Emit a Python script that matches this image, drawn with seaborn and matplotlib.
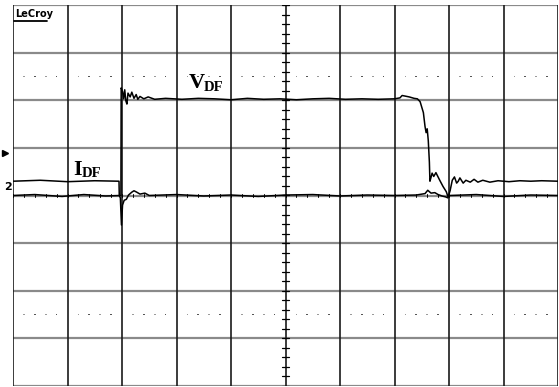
import matplotlib
matplotlib.use("Agg")
import matplotlib.pyplot as plt
import seaborn as sns
import pandas as pd
import numpy as np

sns.set_theme(style="white")
plt.rcParams['font.family'] = ['DejaVu Sans']

# ---- data (time in divisions, signal in divisions) ----
vdf_t = [0.0, 0.4, 0.9, 1.3, 1.7, 1.98, 1.985, 2.01, 2.03, 2.05, 2.07, 2.09, 2.11, 2.15, 2.18,
         2.22, 2.26, 2.29, 2.33, 2.40, 2.48, 2.60, 2.80, 3.10, 3.40, 3.70, 4.00, 4.30,
         4.60, 4.90, 5.20, 5.50, 5.80, 6.10, 6.40, 6.70, 7.00, 7.10, 7.14, 7.27, 7.36,
         7.42, 7.47, 7.53, 7.56, 7.58, 7.60, 7.62, 7.64, 7.65, 7.67, 7.69, 7.72, 7.76,
         7.83, 7.89, 7.95, 7.98, 8.02, 8.5, 9.0, 9.5, 10.0]
vdf_v = [0.0, 0.02, -0.02, 0.02, -0.01, 0.0, 2.26, 2.18, 2.03, 2.22, 1.99, 1.92, 2.15, 2.07, 2.17,
         2.04, 2.12, 2.02, 2.08, 2.03, 2.07, 2.02, 2.04, 2.02, 2.04, 2.03, 2.01, 2.04,
         2.02, 2.03, 2.01, 2.03, 2.04, 2.02, 2.03, 2.02, 2.03, 2.05, 2.10, 2.07, 2.04,
         2.03, 1.97, 1.74, 1.45, 1.32, 1.40, 1.15, 0.70, 0.30, 0.38, 0.47, 0.40, 0.48,
         0.32, 0.19, 0.08, -0.02, 0.0, 0.02, -0.02, 0.01, 0.0]

idf_t = [0.0, 0.5, 1.0, 1.5, 1.945, 1.95, 1.97, 1.99, 2.01, 2.04, 2.08, 2.12, 2.18, 2.22,
         2.27, 2.33, 2.42, 2.50, 3.0, 3.5, 4.0, 4.5, 5.0, 5.5, 6.0, 6.5, 7.0, 7.4, 7.56,
         7.61, 7.67, 7.74, 7.80, 7.87, 7.94, 7.98, 8.02, 8.06, 8.10, 8.14, 8.17, 8.20,
         8.26, 8.31, 8.39, 8.46, 8.53, 8.62, 8.75, 8.90, 9.10, 9.30, 9.50, 9.70, 10.0]
idf_v = [0.30, 0.32, 0.29, 0.31, 0.30, 0.0, -0.05, -0.62, -0.20, -0.10, -0.08, 0.01, 0.07, 0.10,
         0.07, 0.03, 0.05, 0.0, 0.02, -0.01, 0.01, -0.02, 0.01, 0.02, -0.01, 0.01, 0.0, 0.01, 0.04,
         0.11, 0.05, 0.06, 0.02, -0.01, -0.03, -0.05, 0.10, 0.32, 0.39, 0.26, 0.30, 0.37,
         0.26, 0.32, 0.28, 0.34, 0.28, 0.32, 0.28, 0.31, 0.29, 0.31, 0.30, 0.31, 0.30]

n_xdiv = 10
n_ydiv = 8

df = pd.concat([
    pd.DataFrame({"t": vdf_t, "v": vdf_v, "trace": "VDF"}),
    pd.DataFrame({"t": idf_t, "v": idf_v, "trace": "IDF"}),
], ignore_index=True)

W, H = 559, 387
fig = plt.figure(figsize=(W / 100, H / 100), dpi=100)
ax = fig.add_axes([13 / W, 1 / H, 545 / W, 381 / H])
ax.set_xlim(0, n_xdiv)
ax.set_ylim(-n_ydiv / 2, n_ydiv / 2)
for s in ax.spines.values():
    s.set_visible(False)
ax.set_xticks([])
ax.set_yticks([])
ax.set_facecolor("white")

# graticule
for y in np.arange(-4, 5, 1):
    ax.axhline(y, color="#8a8a8a", lw=1.6, zorder=1)
for x in np.arange(0, 11, 1):
    ax.axvline(x, color="#1a1a1a", lw=1.2, zorder=2)

# dotted rows
for yy in (2.5, -2.5):
    xs = [i + f for i in range(10) for f in (0.2, 0.4, 0.6, 0.8)]
    cols = ["#9a9a9a" if k % 2 == 0 else "#555555" for k in range(len(xs))]
    ax.scatter(xs, [yy] * len(xs), s=1.6, c=cols, marker="s", linewidths=0, zorder=2)

# center axis ticks
for y in np.arange(-4, 4.01, 0.2):
    ax.plot([4.93, 5.07], [y, y], color="black", lw=0.9, zorder=3)
for x in np.arange(0, 10.01, 0.2):
    ax.plot([x, x], [-0.04, 0.04], color="black", lw=0.7, zorder=3)

sns.lineplot(data=df, x="t", y="v", units="trace", estimator=None, sort=False,
             color="black", lw=1.1, ax=ax, legend=False, zorder=4)
ax.set_xlabel("")
ax.set_ylabel("")

# labels
ax.text(3.23, 2.26, "V", fontsize=16, family="Liberation Serif", fontweight="bold",
        ha="left", va="baseline", color="black", zorder=5)
ax.text(3.50, 2.19, "DF", fontsize=10.5, family="Liberation Serif", fontweight="bold",
        ha="left", va="baseline", color="black", zorder=5)
ax.text(1.10, 0.43, "I", fontsize=16, family="Liberation Serif", fontweight="bold",
        ha="left", va="baseline", color="black", zorder=5)
ax.text(1.27, 0.39, "DF", fontsize=10.5, family="Liberation Serif", fontweight="bold",
        ha="left", va="baseline", color="black", zorder=5)

ax.text(0.03, 3.74, "LeCroy", fontsize=7, fontweight="bold", ha="left", va="baseline",
        color="black", zorder=5)
ax.plot([0.02, 0.62], [3.67, 3.67], color="black", lw=1.3, zorder=5)

# channel markers outside the grid
ax.plot([-0.15], [0.89], marker=">", color="black", ms=4, clip_on=False, zorder=5)
ax.text(-0.10, 0.18, "2", fontsize=8, fontweight="bold", ha="center", va="center",
        color="black", clip_on=False, zorder=5)

fig.savefig("out.png", dpi=100, facecolor="white")
